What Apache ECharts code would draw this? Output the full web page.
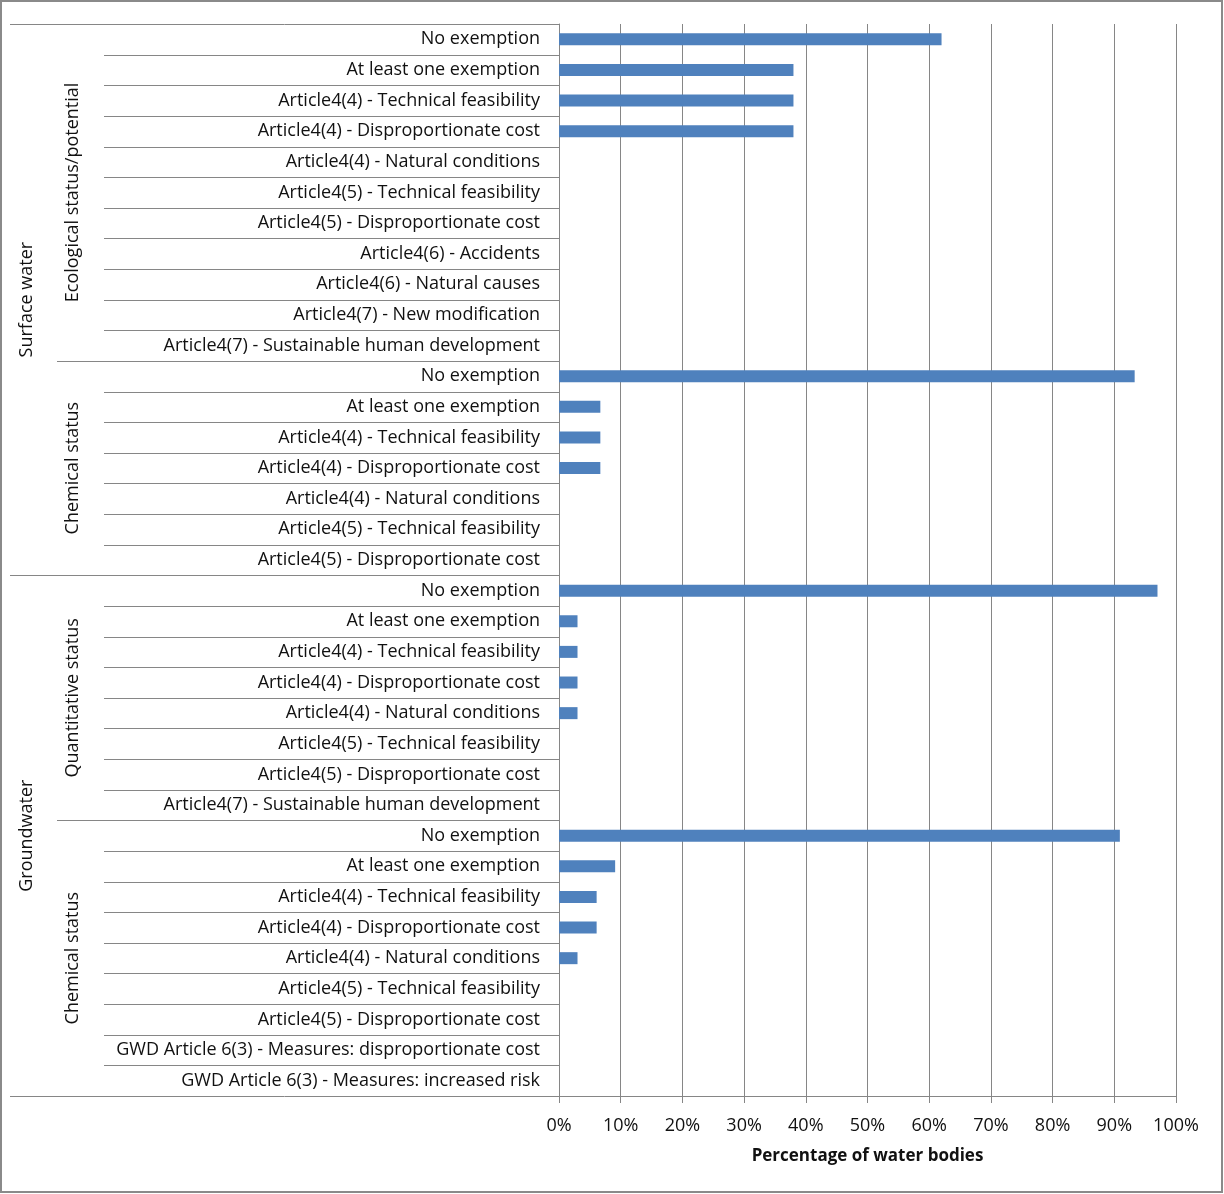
<!DOCTYPE html>
<html>
<head>
<meta charset="utf-8">
<script src="https://cdn.jsdelivr.net/npm/echarts@6/dist/echarts.min.js"></script>
<style>html,body{margin:0;padding:0;background:#fff;}#c{width:1224px;height:1194px;}</style>
</head>
<body>
<div id="c"></div>
<script>
// ---- data ----
const categories = [
  'No exemption','At least one exemption','Article4(4) - Technical feasibility','Article4(4) - Disproportionate cost',
  'Article4(4) - Natural conditions','Article4(5) - Technical feasibility','Article4(5) - Disproportionate cost',
  'Article4(6) - Accidents','Article4(6) - Natural causes','Article4(7) - New modification',
  'Article4(7) - Sustainable human development',
  'No exemption','At least one exemption','Article4(4) - Technical feasibility','Article4(4) - Disproportionate cost',
  'Article4(4) - Natural conditions','Article4(5) - Technical feasibility','Article4(5) - Disproportionate cost',
  'No exemption','At least one exemption','Article4(4) - Technical feasibility','Article4(4) - Disproportionate cost',
  'Article4(4) - Natural conditions','Article4(5) - Technical feasibility','Article4(5) - Disproportionate cost',
  'Article4(7) - Sustainable human development',
  'No exemption','At least one exemption','Article4(4) - Technical feasibility','Article4(4) - Disproportionate cost',
  'Article4(4) - Natural conditions','Article4(5) - Technical feasibility','Article4(5) - Disproportionate cost',
  'GWD Article 6(3) - Measures: disproportionate cost','GWD Article 6(3) - Measures: increased risk'
];
const values = [
  62, 38, 38, 38, 0, 0, 0, 0, 0, 0, 0,
  93.3, 6.7, 6.7, 6.7, 0, 0, 0,
  97, 3, 3, 3, 3, 0, 0, 0,
  90.9, 9.1, 6.1, 6.1, 3, 0, 0, 0, 0
];
const level2Names = ['Ecological status/potential','Chemical status','Quantitative status','Chemical status'];
const level2Counts = [11, 7, 8, 9];
const level3Names = ['Surface water','Groundwater'];
const level3Counts = [18, 17];
const xTicks = [0,10,20,30,40,50,60,70,80,90,100];
const xTitle = 'Percentage of water bodies';

// ---- chart ----
const FONT = 'Open Sans';
const GRAY = '#868686';
const TXT = '#111';
const chart = echarts.init(document.getElementById('c'), null, {renderer:'canvas'});
const gridTop = 24, gridBottom = 98, gridLeft = 559, gridRight = 48;
chart.setOption({
  animation: false,
  backgroundColor: '#fff',
  grid: {left: gridLeft, right: gridRight, top: gridTop, bottom: gridBottom, containLabel: false},
  xAxis: {
    type: 'value', min: xTicks[0], max: xTicks[xTicks.length-1], interval: 10,
    name: xTitle, nameLocation: 'middle', nameGap: 52,
    nameTextStyle: {fontFamily: FONT, fontWeight: 'bold', fontSize: 17, color: TXT},
    axisLine: {show: true, lineStyle: {color: GRAY, width: 1}},
    axisTick: {show: true, length: 7, lineStyle: {color: GRAY}},
    axisLabel: {formatter: v => v + '%', fontFamily: FONT, fontSize: 18, color: TXT, margin: 21},
    splitLine: {show: true, lineStyle: {color: GRAY, width: 1}}
  },
  yAxis: {
    type: 'category', inverse: true, data: categories,
    axisLine: {show: true, lineStyle: {color: GRAY, width: 1}},
    axisTick: {show: false},
    axisLabel: {fontFamily: FONT, fontSize: 18, color: TXT, margin: 19, interval: 0, padding: [3, 0, 0, 0]},
    splitLine: {show: false}
  },
  series: [{
    type: 'bar', data: values, barWidth: 12,
    itemStyle: {color: '#4F81BD'}
  }]
});

// hierarchical category lines and labels derived from the axis scale
function yOf(i) { return chart.convertToPixel({yAxisIndex: 0}, i); }
const step = yOf(1) - yOf(0);
function boundary(i) { return yOf(0) - step / 2 + i * step; }
const axisX = chart.convertToPixel({xAxisIndex: 0}, 0);
const g = [];
function hline(x1, y, x2) {
  g.push({type: 'line', shape: {x1: x1, y1: Math.round(y) + 0.5, x2: x2, y2: Math.round(y) + 0.5},
    style: {stroke: GRAY, lineWidth: 1}, silent: true});
}
// level 1 separators
for (let i = 1; i < categories.length; i++) hline(104, boundary(i), axisX);
// level 2
let acc = 0;
level2Names.forEach((n, k) => {
  const s = acc, e = acc + level2Counts[k];
  if (s > 0) hline(57, boundary(s), axisX);
  g.push({type: 'text', x: 73, y: (boundary(s) + boundary(e)) / 2, rotation: Math.PI / 2,
    style: {text: n, fontFamily: FONT, fontSize: 18, fill: TXT, align: 'center', verticalAlign: 'middle'}});
  acc = e;
});
// level 3
acc = 0;
level3Names.forEach((n, k) => {
  const s = acc, e = acc + level3Counts[k];
  hline(10, boundary(s), axisX);
  g.push({type: 'text', x: 27, y: (boundary(s) + boundary(e)) / 2, rotation: Math.PI / 2,
    style: {text: n, fontFamily: FONT, fontSize: 18, fill: TXT, align: 'center', verticalAlign: 'middle'}});
  acc = e;
});
hline(10, boundary(categories.length), axisX);
// outer border
g.push({type: 'rect', shape: {x: 1, y: 1, width: 1221, height: 1191},
  style: {fill: null, stroke: '#8a8a8a', lineWidth: 2}, silent: true});
chart.setOption({graphic: g});
</script>
</body>
</html>
